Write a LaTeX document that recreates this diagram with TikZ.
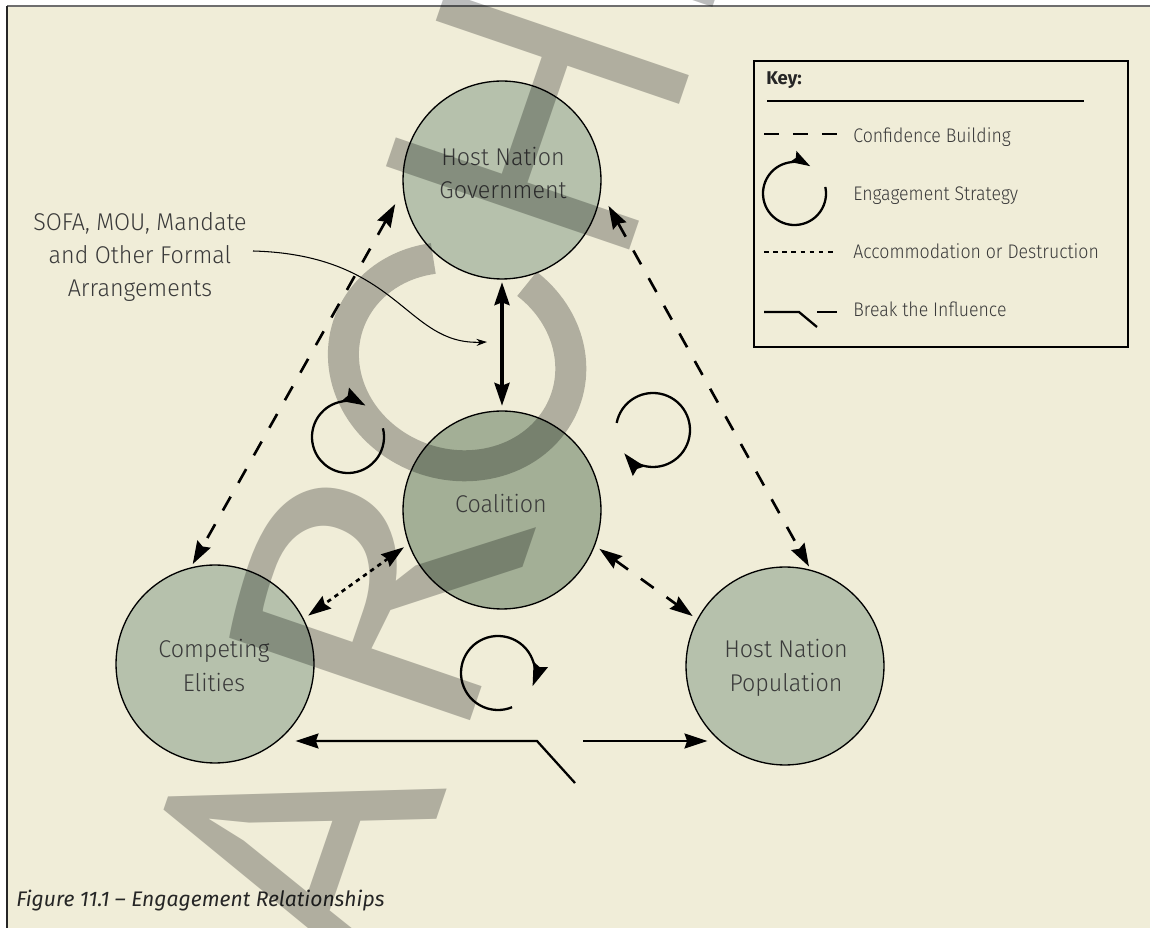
\documentclass[tikz,border=0pt]{standalone}
\usepackage{fontspec}
\usetikzlibrary{arrows.meta,calc}
\IfFontExistsTF{Fira Sans Light}{%
  \newfontfamily\lightfont{Fira Sans Light}[FakeStretch=0.96]%
  \newfontfamily\keyfont{Fira Sans Light}[FakeStretch=0.9]%
}{%
  \newfontfamily\lightfont{Fira Sans}[FakeStretch=0.96]%
  \newfontfamily\keyfont{Fira Sans}[FakeStretch=0.9]%
}
\newfontfamily\regfont{Fira Sans}
\newfontfamily\wmfont{PT Sans}
\definecolor{cream}{HTML}{F0EDD8}
\definecolor{sage}{HTML}{B6C1AC}
\definecolor{sagedark}{HTML}{A3AF96}
\definecolor{ink}{HTML}{3A3A3A}
\definecolor{wmgray}{HTML}{BBBCBC}
\definecolor{framegray}{HTML}{6E6E6E}
\begin{document}
\begin{tikzpicture}[x=0.02cm,y=-0.02cm,
  >={Stealth[length=13pt,width=8.5pt,inset=1.5pt]},
  circ/.style={circle, draw=black, line width=0.75pt, minimum size=3.96cm, inner sep=0pt},
  lbl/.style={font=\lightfont\fontsize{13.8pt}{16pt}\selectfont, text=ink, inner sep=0pt, anchor=base},
  keytxt/.style={font=\keyfont\fontsize{11.2pt}{13pt}\selectfont, text=ink, inner sep=0pt, anchor=base west},
  conf/.style={line width=1.5pt, dash pattern=on 9pt off 9pt, <->},
  acc/.style={line width=1.5pt, dash pattern=on 2.5pt off 2.5pt, <->},
  rel/.style={line width=2.2pt, <->},
  brk/.style={line width=1.3pt},
  cyc/.style={line width=1.3pt, ->},
  wm/.style={font=\wmfont\fontsize{209pt}{209pt}\selectfont, text=wmgray, rotate=71.1, inner sep=0pt, anchor=base}]

% page and frame
\fill[white] (0,0) rectangle (1150,928);
\useasboundingbox (0,0) rectangle (1150,928);
\fill[cream] (7,6) rectangle (1150,928);
\draw[framegray, line width=0.8pt] (7,6) -- (1150,6);
\draw[black!85, line width=0.8pt] (7,6) -- (7,928);

% circles
\node[circ, fill=sage] (hng) at (502,180) {};
\node[circ, fill=sagedark] (coal) at (502,510) {};
\node[circ, fill=sage] (ce) at (215,664) {};
\node[circ, fill=sage] (hnp) at (785,666) {};

% labels
\node[lbl] (hngA) at (503,166) {Host Nation};
\node[lbl] (hngB) at (503,199) {Government};
\node[lbl] (coalT) at (501,513) {Coalition};
\node[lbl] (ceA) at (214,658) {Competing};
\node[lbl] (ceB) at (214,692) {Elities};
\node[lbl] (hnpA) at (786,658) {Host Nation};
\node[lbl] (hnpB) at (786,692) {Population};
\node[lbl] (sofaA) at (140,231) {SOFA, MOU, Mandate};
\node[lbl] (sofaB) at (140,264) {and Other Formal};
\node[lbl] (sofaC) at (140,297) {Arrangements};

% caption
\node[font=\regfont\itshape\fontsize{12pt}{14pt}\selectfont, text=black!85, inner sep=0pt, anchor=base west] (caption) at (16,907) {Figure 11.1 – Engagement Relationships};

% watermark
\begin{scope}[blend mode=multiply]
  \node[wm] (wmA) at (413.3,888.2) {A};
  \node[wm, xscale=1.18] (wmR) at (499.8,633.6) {R};
  \node[wm] (wmH) at (659.8,162.3) {H};
  \node[wm] (wmI) at (717.3,-7.1) {I};
  \begin{scope}[shift={(457.1,361.6)}, x={(0.006428cm,0.018928cm)}, y={(-0.018928cm,0.006428cm)}]
    \draw[wmgray, line width=0.62cm] (29:103 and 115) arc[start angle=29, end angle=339, x radius=103, y radius=115];
  \end{scope}
\end{scope}

% relationships
\draw[rel, shorten <=0.05cm, shorten >=0.09cm] (hng.south) -- (coal.north);
\draw[conf, shorten <=0.314cm, shorten >=0.074cm] (hng.186.6) -- (ce.104.5);
\draw[conf, shorten <=0.314cm, shorten >=0.074cm] (hng.353.4) -- (hnp.75.5);
\draw[acc, shorten <=0.108cm, shorten >=0.108cm] (coal.200.8) -- (ce.27.6);
\draw[conf, shorten <=0.108cm, shorten >=0.108cm] (coal.339.2) -- (hnp.152.4);

% break the influence
\coordinate (brkL) at (537,741);
\coordinate (brkD) at (575,783);
\coordinate (brkR) at (583,741);
\draw[brk, ->] (brkD) -- (brkL) -- ($(ce.east |- brkL)+(-19,0)$);
\draw[brk, ->] (brkR) -- ($(hnp.west |- brkR)+(22,0)$);

% SOFA pointer
\coordinate (sofaS) at (253,251);
\coordinate (sofaE) at (487,342);
\draw[line width=0.6pt, -{Stealth[length=6pt,width=4pt]}] (sofaS) .. controls (400,255) and (405,345) .. (sofaE);

% engagement cycles
\coordinate (cycL) at (348,437);
\coordinate (cycR) at (653,430);
\coordinate (cycB) at (498,673);
\draw[cyc] (cycL) ++(-14:36) arc[start angle=-14, end angle=299, radius=36];
\draw[cyc] (cycR) ++(191:37) arc[start angle=191, end angle=501, radius=37];
\draw[cyc] (cycB) ++(67.6:37) arc[start angle=67.6, end angle=380.7, radius=37];

% key
\draw[black, line width=0.75pt] (754,61) rectangle (1128,347);
\node[font=\regfont\bfseries\fontsize{10.5pt}{12pt}\selectfont, text=black!85, inner sep=0pt, anchor=base west] (keyH) at (766,85) {Key:};
\coordinate (kr1) at (767,101);
\coordinate (kr2) at (1084,101);
\draw[line width=0.6pt] (kr1) -- (kr2);
\coordinate (kd1) at (764,134);
\coordinate (kd2) at (837,134);
\draw[line width=1.4pt, dash pattern=on 8.5pt off 8pt] (kd1) -- (kd2);
\node[keytxt] (k1) at (853,143) {Confidence Building};
\coordinate (kc) at (794.5,193.5);
\draw[cyc, -{Stealth[length=11pt,width=7pt,inset=1.5pt]}] (kc) ++(-12:31.5) arc[start angle=-12, end angle=300, radius=31.5];
\node[keytxt] (k2) at (853,201) {Engagement Strategy};
\coordinate (ka1) at (764,252);
\coordinate (ka2) at (837,252);
\draw[line width=1.4pt, dash pattern=on 2.6pt off 2.6pt] (ka1) -- (ka2);
\node[keytxt] (k3) at (853,259) {Accommodation or Destruction};
\coordinate (kb1) at (764,312);
\coordinate (kb2) at (799,312);
\coordinate (kb3) at (817,327);
\coordinate (kb4) at (817,312);
\coordinate (kb5) at (837,312);
\draw[brk] (kb1) -- (kb2) -- (kb3);
\draw[brk] (kb4) -- (kb5);
\node[keytxt] (k4) at (853,317) {Break the Influence};
\end{tikzpicture}
\end{document}
